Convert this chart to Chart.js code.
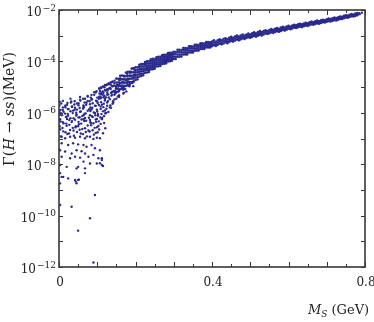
<!DOCTYPE html>
<html>
<head>
<meta charset="utf-8">
<script src="https://cdn.jsdelivr.net/npm/chart.js@4/dist/chart.umd.min.js"></script>
<style>
  html, body { margin: 0; padding: 0; background: #fff; }
  canvas { display: block; }
</style>
</head>
<body>
<canvas id="myChart" width="374" height="322"></canvas>
<script>
const bandMs = [
  0.150, 0.155, 0.160, 0.165, 0.170, 0.175, 0.180, 0.185, 0.190, 0.195,
  0.200, 0.205, 0.210, 0.215, 0.220, 0.225, 0.230, 0.235, 0.240, 0.245,
  0.250, 0.255, 0.260, 0.265, 0.270, 0.275, 0.280, 0.285, 0.290, 0.295,
  0.300, 0.305, 0.310, 0.315, 0.320, 0.325, 0.330, 0.335, 0.340, 0.345,
  0.350, 0.355, 0.360, 0.365, 0.370, 0.375, 0.380, 0.385, 0.390, 0.395,
  0.400, 0.405, 0.410, 0.415, 0.420, 0.425, 0.430, 0.435, 0.440, 0.445,
  0.450, 0.455, 0.460, 0.465, 0.470, 0.475, 0.480, 0.485, 0.490, 0.495,
  0.500, 0.505, 0.510, 0.515, 0.520, 0.525, 0.530, 0.535, 0.540, 0.545,
  0.550, 0.555, 0.560, 0.565, 0.570, 0.575, 0.580, 0.585, 0.590, 0.595,
  0.600, 0.605, 0.610, 0.615, 0.620, 0.625, 0.630, 0.635, 0.640, 0.645,
  0.650, 0.655, 0.660, 0.665, 0.670, 0.675, 0.680, 0.685, 0.690, 0.695,
  0.700, 0.705, 0.710, 0.715, 0.720, 0.725, 0.730, 0.735, 0.740, 0.745,
  0.750, 0.755, 0.760, 0.765, 0.770, 0.775, 0.780
];

const bandGamma = [
  [2.14e-5, 1.51e-5, 1.15e-5, 8.7e-6, 6.5e-6],
  [2.09e-5, 1.51e-5, 1.12e-5, 8.5e-6, 6.6e-6],
  [2.75e-5, 1.95e-5, 1.45e-5, 1.12e-5, 8.3e-6],
  [2.82e-5, 2.0e-5, 1.51e-5, 1.15e-5, 8.5e-6],
  [2.75e-5, 2.0e-5, 1.48e-5, 1.12e-5, 8.7e-6],
  [3.7e-5, 2.63e-5, 1.95e-5, 1.51e-5, 1.12e-5],
  [3.9e-5, 2.75e-5, 2.09e-5, 1.58e-5, 1.17e-5],
  [3.9e-5, 2.82e-5, 2.09e-5, 1.58e-5, 1.23e-5],
  [5.25e-5, 3.7e-5, 2.75e-5, 2.14e-5, 1.58e-5],
  [5.4e-5, 3.8e-5, 2.9e-5, 2.19e-5, 1.62e-5],
  [5.9e-5, 4.7e-5, 3.8e-5, 3.0e-5, 2.4e-5, 1.9e-5],
  [5.9e-5, 4.7e-5, 3.8e-5, 3.0e-5, 2.4e-5, 2.0e-5],
  [7.3e-5, 6.1e-5, 4.9e-5, 4.0e-5, 3.2e-5, 2.6e-5],
  [7.8e-5, 6.3e-5, 5.1e-5, 4.1e-5, 3.3e-5, 2.7e-5],
  [7.8e-5, 6.3e-5, 5.2e-5, 4.2e-5, 3.4e-5, 2.9e-5],
  [9.5e-5, 8.0e-5, 6.5e-5, 5.3e-5, 4.4e-5, 3.6e-5],
  [1.0e-4, 8.2e-5, 6.8e-5, 5.5e-5, 4.6e-5, 3.7e-5],
  [1.0e-4, 8.2e-5, 6.8e-5, 5.6e-5, 4.6e-5, 3.9e-5],
  [1.2e-4, 1.03e-4, 8.5e-5, 7.1e-5, 5.9e-5, 4.9e-5],
  [1.25e-4, 1.04e-4, 8.7e-5, 7.2e-5, 6.0e-5, 5.0e-5],
  [1.23e-4, 1.03e-4, 8.6e-5, 7.2e-5, 6.1e-5, 5.2e-5],
  [1.46e-4, 1.25e-4, 1.05e-4, 8.9e-5, 7.5e-5, 6.3e-5],
  [1.52e-4, 1.28e-4, 1.08e-4, 9.1e-5, 7.7e-5, 6.5e-5],
  [1.5e-4, 1.27e-4, 1.07e-4, 9.1e-5, 7.7e-5, 6.6e-5],
  [1.75e-4, 1.52e-4, 1.29e-4, 1.1e-4, 9.3e-5, 7.9e-5],
  [1.82e-4, 1.55e-4, 1.32e-4, 1.12e-4, 9.6e-5, 8.1e-5],
  [1.81e-4, 1.54e-4, 1.32e-4, 1.12e-4, 9.6e-5, 8.4e-5],
  [2.1e-4, 1.84e-4, 1.58e-4, 1.35e-4, 1.16e-4, 9.9e-5],
  [2.18e-4, 1.87e-4, 1.61e-4, 1.39e-4, 1.19e-4, 1.02e-4],
  [2.18e-4, 1.88e-4, 1.62e-4, 1.4e-4, 1.2e-4, 1.06e-4],
  [2.37e-4, 1.92e-4, 1.53e-4, 1.24e-4],
  [2.31e-4, 1.89e-4, 1.51e-4, 1.25e-4],
  [2.82e-4, 2.31e-4, 1.85e-4, 1.52e-4],
  [2.82e-4, 2.31e-4, 1.86e-4, 1.53e-4],
  [2.75e-4, 2.28e-4, 1.84e-4, 1.55e-4],
  [3.33e-4, 2.75e-4, 2.23e-4, 1.85e-4],
  [3.31e-4, 2.75e-4, 2.24e-4, 1.86e-4],
  [3.24e-4, 2.7e-4, 2.2e-4, 1.87e-4],
  [3.87e-4, 3.24e-4, 2.65e-4, 2.22e-4],
  [3.85e-4, 3.23e-4, 2.66e-4, 2.23e-4],
  [3.76e-4, 3.16e-4, 2.61e-4, 2.24e-4],
  [4.45e-4, 3.76e-4, 3.11e-4, 2.62e-4],
  [4.44e-4, 3.75e-4, 3.11e-4, 2.63e-4],
  [4.33e-4, 3.66e-4, 3.05e-4, 2.63e-4],
  [5.07e-4, 4.31e-4, 3.6e-4, 3.05e-4],
  [5.04e-4, 4.29e-4, 3.59e-4, 3.05e-4],
  [4.93e-4, 4.21e-4, 3.53e-4, 3.06e-4],
  [5.71e-4, 4.89e-4, 4.11e-4, 3.52e-4],
  [5.65e-4, 4.84e-4, 4.08e-4, 3.51e-4],
  [5.52e-4, 4.74e-4, 4.02e-4, 3.5e-4],
  [5.9e-4, 4.8e-4, 3.9e-4],
  [6.6e-4, 5.4e-4, 4.3e-4],
  [5.8e-4, 4.7e-4, 4.0e-4],
  [6.6e-4, 5.4e-4, 4.4e-4],
  [7.2e-4, 6.0e-4, 4.9e-4],
  [6.6e-4, 5.4e-4, 4.6e-4],
  [7.4e-4, 6.1e-4, 5.0e-4],
  [7.9e-4, 6.6e-4, 5.5e-4],
  [7.4e-4, 6.1e-4, 5.1e-4],
  [8.3e-4, 6.9e-4, 5.75e-4],
  [9.0e-4, 7.5e-4, 6.2e-4],
  [8.3e-4, 6.9e-4, 5.9e-4],
  [9.3e-4, 7.8e-4, 6.5e-4],
  [1.01e-3, 8.4e-4, 7.1e-4],
  [9.2e-4, 7.8e-4, 6.6e-4],
  [1.02e-3, 8.6e-4, 7.2e-4],
  [1.11e-3, 9.3e-4, 7.9e-4],
  [1.01e-3, 8.6e-4, 7.5e-4],
  [1.12e-3, 9.5e-4, 8.1e-4],
  [1.22e-3, 1.03e-3, 8.8e-4],
  [1.12e-3, 9.5e-4, 8.3e-4],
  [1.24e-3, 1.06e-3, 9.0e-4],
  [1.35e-3, 1.15e-3, 9.8e-4],
  [1.24e-3, 1.06e-3, 9.2e-4],
  [1.38e-3, 1.17e-3, 1.0e-3],
  [1.5e-3, 1.27e-3, 1.08e-3],
  [1.38e-3, 1.17e-3, 1.02e-3],
  [1.51e-3, 1.3e-3, 1.12e-3],
  [1.64e-3, 1.41e-3, 1.22e-3],
  [1.51e-3, 1.32e-3, 1.16e-3],
  [1.67e-3, 1.45e-3, 1.25e-3],
  [1.8e-3, 1.56e-3, 1.35e-3],
  [1.68e-3, 1.46e-3, 1.29e-3],
  [1.85e-3, 1.6e-3, 1.39e-3],
  [2.0e-3, 1.73e-3, 1.5e-3],
  [1.86e-3, 1.62e-3, 1.43e-3],
  [2.06e-3, 1.78e-3, 1.54e-3],
  [2.21e-3, 1.92e-3, 1.66e-3],
  [2.07e-3, 1.79e-3, 1.58e-3],
  [2.26e-3, 1.97e-3, 1.72e-3],
  [2.41e-3, 2.12e-3, 1.86e-3],
  [2.28e-3, 2.0e-3, 1.79e-3],
  [2.49e-3, 2.19e-3, 1.92e-3],
  [2.67e-3, 2.35e-3, 2.07e-3],
  [2.52e-3, 2.22e-3, 1.99e-3],
  [2.75e-3, 2.41e-3, 2.12e-3],
  [2.93e-3, 2.58e-3, 2.26e-3],
  [2.75e-3, 2.42e-3, 2.16e-3],
  [2.97e-3, 2.63e-3, 2.33e-3],
  [3.18e-3, 2.82e-3, 2.49e-3],
  [3.02e-3, 2.68e-3, 2.41e-3],
  [3.29e-3, 2.92e-3, 2.59e-3],
  [3.53e-3, 3.13e-3, 2.77e-3],
  [3.33e-3, 2.95e-3, 2.66e-3],
  [3.61e-3, 3.2e-3, 2.84e-3],
  [3.85e-3, 3.41e-3, 3.02e-3],
  [3.63e-3, 3.22e-3, 2.9e-3],
  [3.94e-3, 3.51e-3, 3.13e-3],
  [4.2e-3, 3.75e-3, 3.35e-3],
  [4.01e-3, 3.58e-3, 3.25e-3],
  [4.36e-3, 3.89e-3, 3.48e-3],
  [4.63e-3, 4.14e-3, 3.7e-3],
  [4.4e-3, 3.93e-3, 3.56e-3],
  [4.75e-3, 4.25e-3, 3.79e-3],
  [5.05e-3, 4.51e-3, 4.03e-3],
  [4.82e-3, 4.31e-3, 3.91e-3],
  [5.21e-3, 4.68e-3, 4.2e-3],
  [5.56e-3, 4.99e-3, 4.49e-3],
  [5.45e-3, 4.9e-3, 4.49e-3],
  [5.89e-3, 5.31e-3, 4.79e-3],
  [6.28e-3, 5.66e-3, 5.1e-3],
  [6.04e-3, 5.43e-3, 4.98e-3],
  [6.52e-3, 5.89e-3, 5.32e-3],
  [6.92e-3, 6.28e-3, 5.69e-3],
  [6.68e-3, 6.03e-3, 5.56e-3],
  [7.2e-3, 6.53e-3, 5.93e-3],
  [7.67e-3, 6.97e-3, 6.31e-3]
];

// the scattered cloud at low mass, [M_S, Gamma]
const cloudPoints = [
  [0.194, 5.3e-5],
  [0.189, 4.0e-5], [0.198, 4.4e-5],
  [0.185, 3.6e-5], [0.196, 3.0e-5],
  [0.178, 3.3e-5], [0.186, 2.7e-5], [0.198, 3.1e-5],
  [0.170, 2.6e-5], [0.180, 2.1e-5], [0.195, 2.7e-5],
  [0.160, 2.2e-5], [0.169, 2.0e-5], [0.180, 1.7e-5], [0.193, 2.2e-5],
  [0.145, 1.43e-5], [0.158, 1.81e-5], [0.166, 1.54e-5], [0.175, 1.88e-5], [0.188, 1.46e-5], [0.195, 1.69e-5],
  [0.130, 1.28e-5], [0.139, 1.56e-5], [0.152, 1.21e-5], [0.159, 1.41e-5], [0.170, 1.52e-5], [0.184, 1.26e-5], [0.192, 1.44e-5],
  [0.117, 1.01e-5], [0.124, 1.17e-5], [0.135, 1.27e-5], [0.149, 1.05e-5], [0.157, 1.2e-5], [0.169, 1.0e-5], [0.179, 1.32e-5], [0.194, 1.09e-5],
  [0.105, 8.7e-6], [0.119, 9.9e-6], [0.127, 8.3e-6], [0.139, 1.1e-5], [0.149, 9.1e-6], [0.164, 1.02e-5], [0.173, 8.5e-6], [0.184, 1.07e-5],
  [0.098, 6.9e-6], [0.110, 9.1e-6], [0.120, 7.5e-6], [0.135, 8.5e-6], [0.144, 7.1e-6], [0.155, 8.9e-6], [0.168, 7.8e-6], [0.176, 6.8e-6],
  [0.092, 6.3e-6], [0.107, 7.1e-6], [0.116, 5.9e-6], [0.127, 7.4e-6], [0.140, 6.5e-6], [0.148, 5.7e-6], [0.157, 7.2e-6], [0.170, 6.1e-6],
  [0.085, 4.9e-6], [0.096, 6.2e-6], [0.109, 5.4e-6], [0.117, 4.7e-6], [0.126, 6.0e-6], [0.139, 5.1e-6], [0.146, 6.2e-6], [0.157, 4.8e-6], [0.168, 5.6e-6],
  [0.075, 4.5e-6], [0.083, 3.9e-6], [0.092, 5.0e-6], [0.105, 4.25e-6], [0.112, 5.2e-6], [0.123, 4.0e-6], [0.137, 4.65e-6], [0.145, 5.0e-6], [0.157, 4.15e-6],
  [0.055, 4.1e-6], [0.068, 3.5e-6], [0.075, 4.3e-6], [0.086, 3.35e-6], [0.100, 3.9e-6], [0.108, 4.2e-6], [0.120, 3.45e-6], [0.130, 3.95e-6], [0.145, 3.3e-6], [0.154, 4.35e-6],
  [0.030, 3.55e-6], [0.041, 2.8e-6], [0.055, 3.2e-6], [0.063, 3.5e-6], [0.075, 2.9e-6], [0.085, 3.3e-6], [0.100, 2.75e-6], [0.109, 3.65e-6], [0.120, 3.0e-6], [0.133, 3.4e-6], [0.141, 2.8e-6], [0.150, 3.55e-6],
  [0.002, 2.7e-6], [0.010, 2.9e-6], [0.022, 2.4e-6], [0.032, 2.75e-6], [0.047, 2.3e-6], [0.056, 3.0e-6], [0.067, 2.5e-6], [0.080, 2.8e-6], [0.088, 2.35e-6], [0.097, 2.95e-6], [0.110, 2.6e-6], [0.117, 2.25e-6], [0.128, 2.85e-6], [0.142, 2.45e-6],
  [0.006, 2.3e-6], [0.016, 1.9e-6], [0.031, 2.5e-6], [0.040, 2.1e-6], [0.051, 2.35e-6], [0.064, 1.95e-6], [0.072, 2.45e-6], [0.081, 2.15e-6], [0.094, 1.9e-6], [0.101, 2.4e-6], [0.112, 2.05e-6], [0.126, 2.5e-6], [0.134, 1.95e-6], [0.140, 2.25e-6],
  [0.001, 1.95e-6], [0.010, 1.62e-6], [0.021, 2.04e-6], [0.034, 1.78e-6], [0.042, 1.57e-6], [0.051, 1.98e-6], [0.064, 1.69e-6], [0.071, 2.06e-6], [0.082, 1.6e-6], [0.096, 1.86e-6], [0.104, 2.0e-6], [0.116, 1.66e-6], [0.126, 1.89e-6], [0.136, 1.58e-6],
  [0.004, 1.3e-6], [0.017, 1.65e-6], [0.025, 1.4e-6], [0.034, 1.7e-6], [0.047, 1.33e-6], [0.054, 1.54e-6], [0.065, 1.66e-6], [0.079, 1.37e-6], [0.087, 1.57e-6], [0.099, 1.31e-6], [0.109, 1.74e-6], [0.124, 1.43e-6], [0.133, 1.62e-6],
  [0.001, 1.11e-6], [0.010, 1.29e-6], [0.023, 1.39e-6], [0.030, 1.15e-6], [0.041, 1.31e-6], [0.055, 1.1e-6], [0.063, 1.45e-6], [0.075, 1.2e-6], [0.085, 1.35e-6], [0.100, 1.12e-6], [0.109, 1.41e-6], [0.120, 1.23e-6], [0.129, 1.08e-6],
  [0.005, 9.6e-7], [0.012, 1.09e-6], [0.023, 9.1e-7], [0.037, 1.21e-6], [0.045, 1.0e-6], [0.057, 1.12e-6], [0.067, 9.3e-7], [0.082, 1.18e-6], [0.091, 1.03e-6], [0.102, 9.0e-7], [0.115, 1.14e-6], [0.123, 9.8e-7],
  [0.002, 8.3e-7], [0.016, 9.3e-7], [0.024, 7.75e-7], [0.036, 9.75e-7], [0.046, 8.5e-7], [0.061, 7.5e-7], [0.070, 9.5e-7], [0.081, 8.1e-7], [0.094, 9.8e-7], [0.102, 7.7e-7], [0.111, 8.9e-7], [0.121, 9.6e-7],
  [0.008, 8.1e-7], [0.020, 7.1e-7], [0.030, 6.2e-7], [0.045, 7.9e-7], [0.054, 6.7e-7], [0.065, 8.2e-7], [0.078, 6.4e-7], [0.086, 7.4e-7], [0.095, 8.0e-7], [0.108, 6.6e-7], [0.118, 7.5e-7],
  [0.003, 5.6e-7], [0.018, 6.8e-7], [0.027, 5.3e-7], [0.038, 6.15e-7], [0.051, 6.6e-7], [0.059, 5.5e-7], [0.068, 6.3e-7], [0.081, 5.25e-7], [0.088, 6.9e-7], [0.099, 5.7e-7], [0.113, 6.45e-7],
  [0.010, 4.35e-7], [0.021, 5.75e-7], [0.034, 4.75e-7], [0.042, 5.35e-7], [0.051, 4.45e-7], [0.064, 5.6e-7], [0.071, 4.9e-7], [0.082, 4.3e-7], [0.096, 5.45e-7], [0.104, 4.65e-7], [0.112, 5.65e-7],
  [0.004, 4.6e-7], [0.019, 3.8e-7], [0.033, 4.35e-7], [0.052, 3.6e-7], [0.066, 4.8e-7], [0.083, 4.0e-7], [0.097, 4.45e-7], [0.109, 3.7e-7],
  [0.012, 3.9e-7], [0.027, 3.4e-7], [0.044, 3.0e-7], [0.058, 3.8e-7], [0.075, 3.2e-7], [0.090, 3.9e-7], [0.103, 3.05e-7],
  [0.002, 2.95e-7], [0.020, 3.15e-7], [0.036, 2.6e-7], [0.050, 3.0e-7], [0.068, 2.5e-7], [0.084, 3.3e-7], [0.099, 2.75e-7],
  [0.009, 2.55e-7], [0.029, 2.15e-7], [0.043, 2.7e-7], [0.061, 2.35e-7], [0.077, 2.05e-7], [0.093, 2.6e-7], [0.105, 2.25e-7],
  [0.003, 2.25e-7], [0.017, 1.75e-7], [0.038, 2.05e-7], [0.054, 2.2e-7], [0.070, 1.8e-7], [0.088, 2.1e-7], [0.101, 1.75e-7],
  [0.011, 1.9e-7], [0.026, 1.58e-7], [0.047, 1.78e-7], [0.063, 1.48e-7], [0.080, 1.86e-7], [0.096, 1.63e-7],
  [0.005, 1.19e-7], [0.022, 1.5e-7], [0.039, 1.28e-7], [0.057, 1.56e-7], [0.073, 1.21e-7], [0.091, 1.41e-7],
  // where the cloud thickens into the band
  [0.105, 8.9e-6], [0.106, 5.6e-6], [0.104, 3.5e-6],
  [0.110, 1.0e-5], [0.111, 6.0e-6], [0.109, 4.0e-6],
  [0.115, 1.05e-5], [0.114, 6.8e-6], [0.116, 4.0e-6],
  [0.120, 1.2e-5], [0.121, 7.4e-6], [0.119, 4.5e-6],
  [0.125, 1.26e-5], [0.124, 7.9e-6], [0.126, 5.0e-6],
  [0.130, 1.41e-5], [0.131, 8.9e-6], [0.129, 5.2e-6],
  [0.135, 1.5e-5], [0.134, 9.5e-6], [0.136, 6.0e-6],
  [0.140, 1.66e-5], [0.141, 1.07e-5], [0.139, 6.6e-6],
  [0.145, 1.78e-5], [0.144, 1.15e-5], [0.146, 7.1e-6]
];

// sparse tail below the cloud and the last points of the band
const tailPoints = [
  [0.007, 1.17e-7], [0.016, 1.02e-7], [0.029, 1.17e-7], [0.042, 1.07e-7], [0.055, 1.17e-7], [0.068, 1.02e-7],
  [0.081, 1.17e-7], [0.09, 9.5e-8], [0.099, 1.07e-7], [0.107, 1.02e-7],
  [0.007, 6.5e-8], [0.024, 5.6e-8], [0.037, 6.5e-8], [0.05, 5.9e-8], [0.064, 5.6e-8], [0.072, 4.8e-8],
  [0.085, 5.6e-8], [0.094, 4.2e-8], [0.107, 3.5e-8],
  [0.003, 3.5e-8], [0.016, 3.1e-8], [0.033, 2.6e-8], [0.046, 3.5e-8], [0.059, 3.2e-8], [0.068, 2.6e-8],
  [0.077, 1.95e-8], [0.09, 2.3e-8], [0.103, 1.7e-8], [0.112, 1.45e-8],
  [0.007, 1.95e-8], [0.029, 1.7e-8], [0.042, 1.95e-8], [0.055, 1.8e-8], [0.064, 1.26e-8], [0.081, 1.07e-8],
  [0.099, 1.07e-8], [0.112, 9.3e-9],
  [0.003, 9.3e-9], [0.02, 7.9e-9], [0.05, 7.9e-9], [0.068, 6.9e-9], [0.046, 6.9e-9],
  [0.007, 3.2e-9], [0.024, 2.8e-9], [0.05, 2.45e-9], [0.068, 4.5e-9], [0.003, 1.8e-9], [0.046, 1.8e-9],
  [0.003, 4.5e-9], [0.011, 3.2e-9], [0.042, 2.45e-9], [0.052, 2.5e-9], [0.044, 2.1e-9],
  [0.094, 6.3e-10], [0.003, 2.6e-10], [0.033, 2.2e-10], [0.081, 7.9e-11], [0.05, 2.6e-11], [0.09, 1.5e-12],
  [0.118, 4e-7], [0.121, 2.5e-7], [0.115, 1.6e-7], [0.112, 1.7e-8], [0.107, 1.1e-8], [0.115, 8.5e-9],
  [0.785, 7.5e-3], [0.786, 6.9e-3], [0.792, 7.9e-3]
];

const yTickExponents = [-12, -11, -10, -9, -8, -7, -6, -5, -4, -3, -2];
const yLabelExponents = [-12, -10, -8, -6, -4, -2];
const xTicks = [0, 0.05, 0.1, 0.15, 0.2, 0.25, 0.3, 0.35, 0.4, 0.45, 0.5, 0.55, 0.6, 0.65, 0.7, 0.75, 0.8];
const xLabels = ['0', '0.4', '0.8'];
const xLabelValues = [0, 0.4, 0.8];

const dotColor = 'rgb(42, 42, 142)';
const frameColor = '#383838';
const serif = '"DejaVu Serif", "Liberation Serif", serif';

// build the scatter data
const bandData = [];
bandMs.forEach((m, i) => {
    bandGamma[i].forEach(g => bandData.push({ x: m, y: g }));
});
const scatterData = [];
cloudPoints.forEach(p => scatterData.push({ x: p[0], y: p[1] }));
tailPoints.forEach(p => scatterData.push({ x: p[0], y: p[1] }));

// draws the boxed frame, inward ticks and the LaTeX-ish labels
const framePlugin = {
    id: 'frame',
    afterDraw(chart) {
        const ctx = chart.ctx;
        const area = chart.chartArea;
        const xs = chart.scales.x;
        const ys = chart.scales.y;
        ctx.save();

        // ticks
        ctx.strokeStyle = frameColor;
        ctx.lineWidth = 1;
        ctx.beginPath();
        yTickExponents.forEach(e => {
            const py = Math.round(ys.getPixelForValue(Math.pow(10, e))) + 0.5;
            ctx.moveTo(area.left, py); ctx.lineTo(area.left + 4, py);
            ctx.moveTo(area.right, py); ctx.lineTo(area.right - 4, py);
        });
        xTicks.forEach((v, i) => {
            const px = Math.round(xs.getPixelForValue(v)) + 0.5;
            const len = i % 2 === 0 ? 5 : 3;
            ctx.moveTo(px, area.bottom); ctx.lineTo(px, area.bottom - len);
            ctx.moveTo(px, area.top); ctx.lineTo(px, area.top + len);
        });
        ctx.stroke();

        // box
        ctx.lineWidth = 1.6;
        ctx.strokeRect(area.left, area.top, area.right - area.left, area.bottom - area.top);

        ctx.fillStyle = '#222';
        // y labels 10^n
        yLabelExponents.forEach(e => {
            const py = ys.getPixelForValue(Math.pow(10, e));
            const base = '10';
            const sup = '\u2212' + Math.abs(e);
            ctx.font = '12px ' + serif;
            const wb = ctx.measureText(base).width;
            ctx.font = '9px ' + serif;
            const ws = ctx.measureText(sup).width;
            const x0 = area.left - 3 - ws - wb - 1;
            ctx.textAlign = 'left';
            ctx.textBaseline = 'alphabetic';
            ctx.font = '12px ' + serif;
            ctx.fillText(base, x0, py + 6);
            ctx.font = '9px ' + serif;
            ctx.fillText(sup, x0 + wb + 1, py + 0.5);
        });

        // x labels
        ctx.font = '12px ' + serif;
        ctx.textAlign = 'center';
        ctx.textBaseline = 'alphabetic';
        xLabels.forEach((t, i) => {
            const px = xs.getPixelForValue(xLabelValues[i]);
            ctx.fillText(t, px + 1, 286);
        });

        // x title: M_S (GeV)
        ctx.textAlign = 'left';
        let tx = 308;
        ctx.font = 'italic 13px ' + serif;
        ctx.fillText('M', tx, 314);
        tx += ctx.measureText('M').width;
        ctx.font = 'italic 9px ' + serif;
        ctx.fillText('S', tx, 317);
        tx += ctx.measureText('S').width + 4;
        ctx.font = '13px ' + serif;
        ctx.fillText('(GeV)', tx, 314);

        // y title: Γ(H → ss)(MeV), rotated
        ctx.translate(14, 166);
        ctx.rotate(-Math.PI / 2);
        const parts = [
            ['\u0393(', '14px '],
            ['H', 'italic 14px '],
            [' \u2192 ', '14px '],
            ['ss', 'italic 14px '],
            [')(MeV)', '14px ']
        ];
        let ty = 0;
        parts.forEach(p => {
            ctx.font = p[1] + serif;
            ctx.fillText(p[0], ty, 0);
            ty += ctx.measureText(p[0]).width + 0.6;
        });
        ctx.restore();
    }
};

const config = {
    type: 'scatter',
    data: {
        datasets: [{
            label: 'band',
            data: bandData,
            pointRadius: 1.3,
            pointBorderWidth: 0,
            pointHoverRadius: 0,
            pointBackgroundColor: dotColor
        }, {
            label: 'scatter',
            data: scatterData,
            pointRadius: 1.2,
            pointBorderWidth: 0,
            pointHoverRadius: 0,
            pointBackgroundColor: dotColor
        }]
    },
    options: {
        responsive: false,
        animation: false,
        events: [],
        layout: {
            padding: { left: 59, right: 9, top: 10, bottom: 55 }
        },
        scales: {
            x: { type: 'linear', min: 0, max: 0.8, display: false },
            y: { type: 'logarithmic', min: 1e-12, max: 1e-2, display: false }
        },
        plugins: {
            legend: { display: false },
            tooltip: { enabled: false }
        }
    },
    plugins: [framePlugin]
};

const myChart = new Chart(document.getElementById('myChart'), config);
</script>
</body>
</html>
